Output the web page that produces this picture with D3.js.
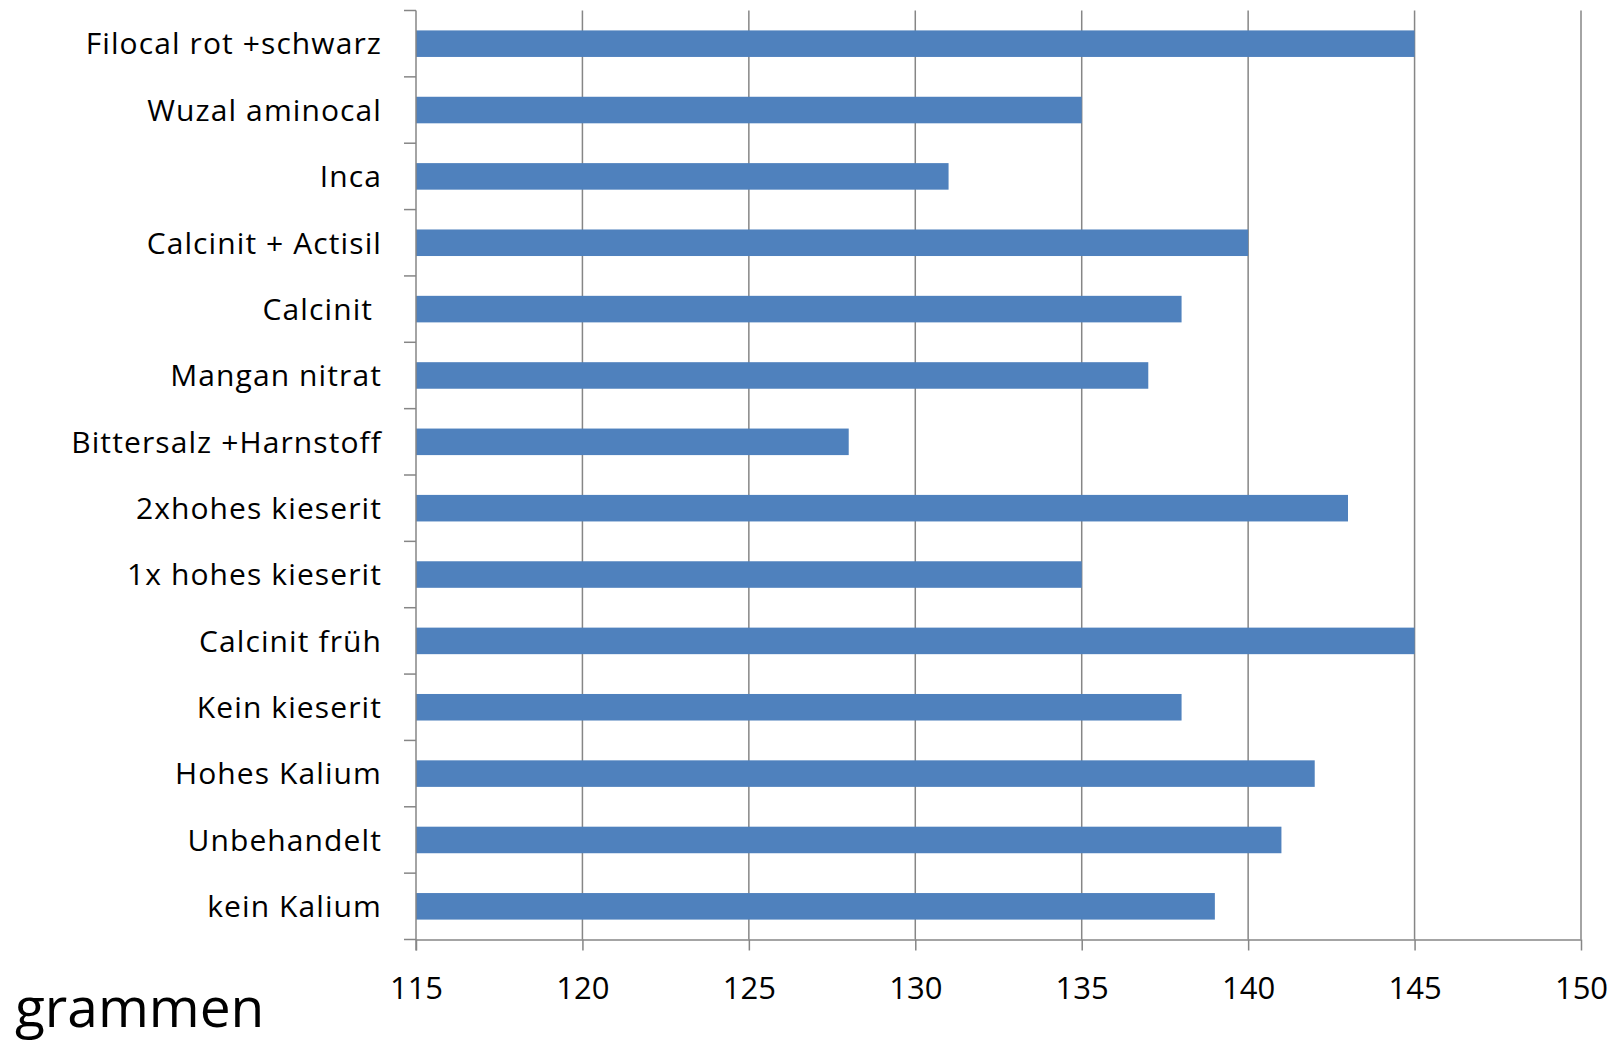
<!DOCTYPE html>
<html><head><meta charset="utf-8">
<script src="https://cdn.jsdelivr.net/npm/d3@7"></script>
<style>body{margin:0;background:#fff}svg{display:block}text{white-space:pre}</style>
</head><body>
<svg id="c" width="1624" height="1043"></svg>
<script>
const categories = ["Filocal rot +schwarz","Wuzal aminocal","Inca","Calcinit + Actisil","Calcinit ","Mangan nitrat","Bittersalz +Harnstoff","2xhohes kieserit","1x hohes kieserit","Calcinit früh","Kein kieserit","Hohes Kalium","Unbehandelt","kein Kalium"];
const values = [145,135,131,140,138,137,128,143,135,145,138,142,141,139];
const xTicks = [115,120,125,130,135,140,145,150];
const unitLabel = "grammen";

const svg = d3.select("#c");
const L = 416, R = 1581, T = 10.5, B = 939.5;
const font = "'Open Sans', Lato, sans-serif";
const x = d3.scaleLinear().domain([115,150]).range([L,R]);
const y = d3.scaleBand().domain(categories).range([T,B]).paddingInner(0.6).paddingOuter(0.3);
const grid = "#868686";

svg.append("g").selectAll("line").data(xTicks.slice(1)).join("line")
  .attr("x1",d=>x(d)).attr("x2",d=>x(d)).attr("y1",T).attr("y2",B)
  .attr("stroke",grid).attr("stroke-width",1.5);

svg.append("g").selectAll("rect").data(categories).join("rect")
  .attr("x",x(115)).attr("y",d=>y(d)).attr("height",y.bandwidth())
  .attr("width",(d,i)=>x(values[i])-x(115)).attr("fill","#4F81BD");

const xa = svg.append("g").attr("transform",`translate(0,${B})`)
  .call(d3.axisBottom(x).tickValues(xTicks).tickSize(11).tickPadding(26).tickSizeOuter(0));
xa.select(".domain").attr("stroke",grid).attr("stroke-width",1.5);
xa.selectAll(".tick line").attr("stroke",grid).attr("stroke-width",1.5);
xa.selectAll(".tick text").attr("font-family",font).attr("font-size",31).attr("fill","#000");

const yb = d3.scaleOrdinal().domain(d3.range(categories.length+1)).range(d3.range(categories.length+1).map(i=>T+i*(B-T)/categories.length));
const ya = svg.append("g");
ya.append("line").attr("x1",L).attr("x2",L).attr("y1",T).attr("y2",B+11).attr("stroke",grid).attr("stroke-width",1.5);
ya.selectAll("line.t").data(d3.range(categories.length+1)).join("line").attr("class","t")
  .attr("x1",L-12).attr("x2",L).attr("y1",d=>yb(d)).attr("y2",d=>yb(d)).attr("stroke",grid).attr("stroke-width",1.5);
ya.selectAll("text").data(categories).join("text")
  .attr("x",L-34).attr("y",d=>y(d)+y.bandwidth()/2).attr("dy","0.36em")
  .attr("text-anchor","end").attr("font-family",font).attr("font-size",30).attr("letter-spacing","1.1px").attr("fill","#000").text(d=>d);

svg.append("text").attr("x",15).attr("y",1027).attr("font-family",font).attr("font-size",55).attr("fill","#000").text(unitLabel);
</script>
</body></html>
